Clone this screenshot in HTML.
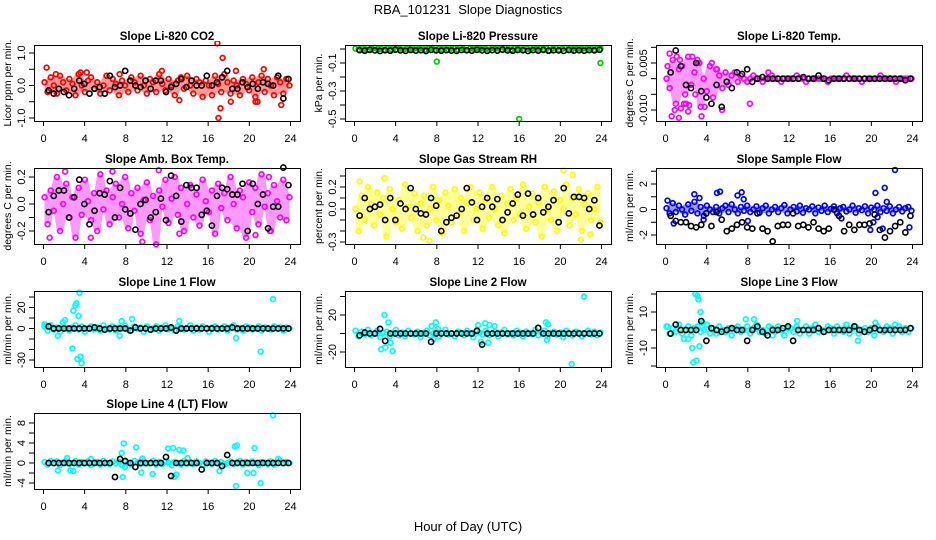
<!DOCTYPE html>
<html><head><meta charset="utf-8">
<style>
html,body{margin:0;padding:0;background:#fff;}
svg{display:block;font-family:"Liberation Sans",Arial,sans-serif;}
</style></head>
<body>
<svg id="chart" width="936" height="540" viewBox="0 0 936 540" xmlns="http://www.w3.org/2000/svg">
<rect x="0" y="0" width="936" height="540" fill="#fff"/>
<text x="468" y="14" text-anchor="middle" font-size="13">RBA_101231&#160; Slope Diagnostics</text>
<text x="468" y="531" text-anchor="middle" font-size="13">Hour of Day (UTC)</text>
</svg>
<script>
// ---------- DATA ----------
const xTickLabels = ["0","4","8","12","16","20","24"];
const xTickValues = [0,4,8,12,16,20,24];

// CO2
const co2Band = [0.1,-0.2,0.25,0.0,-0.25,0.3,0.1,-0.15,0.2,0.05,-0.3,0.35,0.0,-0.2,0.15,0.25,-0.1,0.1,-0.25,0.0,0.3,-0.15,0.2,0.05,-0.3,0.15,0.0,-0.2,0.25,0.1,-0.15,0.3,0.0,-0.25,0.2,0.1,-0.2,0.35,0.05,-0.15,0.2,0.0,-0.3,0.15,0.25,-0.1,0.3,0.0,-0.25,0.2,0.1,-0.35,0.15,0.0,-0.3,0.3,0.05,-0.2,0.35,0.1,-0.25,0.15,0.0,-0.3,0.2,0.05,-0.15,0.25,-0.35,0.1,0.3,-0.2,0.2,0.0,-0.3,0.25,0.1,-0.25,0.2,0.0];
const co2OutHours = [0.3,1.2,3.6,4.2,7.4,11.5,16.9,17.0,17.2,17.4,18.2,18.7,20.6,20.8,21.4,23.1,13.2];
const co2OutValues = [0.55,0.35,0.4,0.4,0.35,0.45,1.3,-1.0,-0.7,0.85,-0.5,0.45,-0.5,-0.5,0.5,-0.6,-0.45];
const co2Black = [-0.15,-0.25,-0.1,-0.2,-0.3,-0.1,0.15,0.05,-0.25,-0.1,-0.05,-0.25,0.3,-0.05,0.0,0.45,0.15,0.0,-0.05,0.15,-0.1,0.15,0.15,-0.2,-0.05,0.05,0.2,-0.05,0.15,0.0,0.0,0.3,0.0,0.1,0.25,0.45,-0.1,-0.1,0.1,-0.05,0.05,-0.1,0.1,0.05,0.0,0.3,-0.4,0.2];
const co2Ticks = [-1,-0.5,0,0.5,1];
const co2TickLabels = ["-1.0","","0.0","","1.0"];

// Pressure
const presBand = [0.003,-0.004,0.006,0.0,-0.006,0.004,0.008,-0.002,0.002,-0.005,0.005,0.0,0.007,-0.003,0.003,-0.006,0.004,0.001,-0.004,0.006,0.0,0.005,-0.003,0.004,0.007,-0.005,0.002,0.0,0.006,-0.004,0.003,0.005,-0.002,0.008,0.0,-0.006,0.004,0.002,0.006,-0.003,0.005,0.0,-0.005,0.007,0.003,0.004,-0.002,0.006,0.0,-0.004,0.005,0.002,0.007,-0.003,0.003,-0.005,0.006,0.0,0.004,-0.002,0.005,-0.012,0.003,0.006,-0.004,0.002,0.007,0.0,-0.003,0.005,0.004,-0.002,0.006,0.0,0.003,-0.004,0.005,0.002];
const presOutHours = [8.0,16.0,23.9];
const presOutValues = [-0.09,-0.5,-0.1];
const presBlack = [-0.008,-0.012,-0.006,-0.01,-0.014,-0.009,-0.012,-0.005,-0.01,-0.013,-0.007,-0.011,-0.009,-0.014,-0.006,-0.01,-0.012,-0.008,-0.011,-0.013,-0.007,-0.009,-0.012,-0.006,-0.01,-0.013,-0.008,-0.011,-0.005,-0.01,-0.012,-0.007,-0.009,-0.014,-0.008,-0.011,-0.006,-0.012,-0.009,-0.01,-0.013,-0.007,-0.011,-0.009,-0.012,-0.008,-0.01,-0.006];
const presTicks = [0,-0.1,-0.2,-0.3,-0.4,-0.5];
const presTickLabels = ["","-0.1","","-0.3","","-0.5"];

// Li-820 Temp
const tempBand = [0.0,-0.003,0.006,-0.008,0.003,0.004,-0.005,0.007,-0.002,0.002,0.005,-0.009,0.0,-0.004,0.004,-0.006,0.003,0.001,-0.003,0.002,-0.002,0.001,0.002,-0.001,0.001,0.0,-0.001,0.0,0.001,0.0,0.0,-0.001,0.0,0.0,0.001,0.0,0.0,-0.001,0.0,0.0,0.0,0.0,0.001,0.0,0.0,-0.001,0.0,0.0,0.0,0.0,0.0,0.0,-0.001,0.0,0.0,0.0,0.0,0.0,0.001,0.0,0.0,0.0,0.0,-0.001,0.0,0.0,0.0,0.0,0.0,0.001,0.0,0.0,0.0,0.0,-0.001,0.0,0.0,0.0,0.0,0.0];
const tempOutHours = [0.2,0.4,0.6,1.1,1.3,1.5,1.4,2.3,2.0,2.6,2.2,3.3,3.1,3.8,4.5,5.0,0.9,1.8,10.0,5.5,2.9,8.2,7.3,3.5];
const tempOutValues = [0.004,0.008,-0.012,0.007,-0.0125,-0.0095,0.006,-0.0085,-0.008,0.007,-0.0105,0.005,0.006,-0.009,0.005,0.003,-0.010,-0.008,0.002,-0.010,-0.005,-0.008,0.001,-0.012];
const tempBlack = [0.002,0.009,0.004,-0.002,-0.003,0.005,-0.004,-0.006,-0.008,-0.002,-0.009,-0.001,-0.003,0.002,0.0015,0.003,-0.001,0.0,0.0005,0.0,0.0,0.0,0.0,0.0,0.0,0.0,0.0005,0.0,0.0,0.001,0.0,-0.0005,0.0,0.0,0.0,0.0,0.0,0.0,0.0,0.0,0.0,0.0,0.0,0.0,0.0,0.0,-0.0005,0.0];
const tempTicks = [0.01,0.005,0,-0.005,-0.01];
const tempTickLabels = ["","0.005","","","-0.010"];

// Amb Box Temp
const ambBand = [0.05,-0.15,0.1,-0.05,0.2,-0.2,0.0,0.15,-0.1,0.05,-0.25,0.12,-0.08,0.18,0.02,-0.12,0.08,-0.2,0.22,-0.04,0.1,-0.15,0.05,0.15,-0.1,0.0,0.2,-0.18,0.08,-0.05,0.12,-0.22,0.03,0.16,-0.12,0.06,-0.3,0.1,-0.02,0.18,-0.14,0.04,0.2,-0.08,0.12,-0.2,0.0,0.14,-0.1,0.07,-0.16,0.18,0.02,-0.06,0.1,-0.22,0.15,-0.03,0.08,-0.12,0.2,0.0,-0.18,0.1,0.05,-0.25,0.16,-0.06,0.12,-0.15,0.22,-0.02,0.08,-0.2,0.14,0.02,-0.1,0.18,-0.12,0.05];
const ambOutHours = [0.6,2.1,4.6,6.7,9.6,11.2,13.2,21.9,20.6,22.0];
const ambOutValues = [-0.25,0.24,-0.25,0.24,-0.28,0.25,-0.22,0.2,-0.23,-0.2];
const ambBlack = [-0.06,0.06,0.1,0.1,-0.1,0.05,0.18,0.0,-0.15,-0.05,0.08,0.07,0.17,-0.1,0.12,-0.04,-0.07,-0.19,0.0,0.03,-0.1,-0.06,0.04,-0.12,0.21,0.06,-0.13,0.14,0.12,0.12,-0.08,-0.05,-0.16,0.06,0.12,0.11,0.07,0.07,0.15,-0.2,0.15,0.0,0.07,-0.18,-0.02,-0.02,0.27,0.14];
const ambTicks = [0.2,0.1,0,-0.1,-0.2];
const ambTickLabels = ["0.2","","0.0","","-0.2"];

// Gas Stream RH
const rhBand = [0.0,-0.2,0.12,-0.1,0.2,0.05,-0.15,0.15,-0.05,0.1,-0.25,0.18,0.0,-0.12,0.08,-0.18,0.22,0.02,-0.08,0.14,-0.2,0.05,0.12,-0.15,0.0,0.2,-0.1,0.08,-0.22,0.15,0.03,-0.12,0.18,-0.05,0.1,-0.2,0.06,0.2,-0.1,0.0,0.15,-0.18,0.08,-0.08,0.2,0.0,-0.15,0.12,-0.22,0.05,0.18,-0.1,0.1,-0.05,0.22,-0.18,0.02,0.14,-0.12,0.06,-0.25,0.2,0.0,-0.1,0.16,-0.2,0.08,0.0,0.22,-0.15,0.1,-0.05,0.18,-0.2,0.04,0.14,-0.1,0.0,0.2,-0.12];
const rhOutHours = [0.5,2.9,7.3,6.7,21.2,20.3,22.0,22.9];
const rhOutValues = [0.25,0.28,-0.29,-0.26,0.31,0.35,-0.28,-0.23];
const rhBlack = [-0.06,0.1,0.0,0.02,0.04,-0.1,0.1,-0.1,0.05,0.0,0.19,0.0,-0.04,-0.05,0.1,0.03,-0.2,-0.12,-0.08,-0.06,0.0,0.19,0.06,-0.1,0.02,0.1,0.02,0.09,-0.1,-0.03,0.05,0.13,-0.06,0.14,-0.05,0.1,-0.03,0.02,0.08,-0.12,0.19,-0.04,0.11,0.11,0.1,0.0,0.08,-0.15];
const rhTicks = [0.3,0.2,0.1,0,-0.1,-0.2,-0.3];
const rhTickLabels = ["","0.2","","0.0","","","-0.3"];

// Sample Flow
const flowBand = [0.1,-0.3,0.5,-0.2,0.3,0.0,-0.4,0.4,-0.1,0.6,-0.3,0.2,-0.5,0.3,0.0,-0.2,0.2,-0.3,0.1,0.3,-0.2,0.4,0.0,-0.3,0.2,-0.1,0.3,-0.2,0.0,0.25,-0.25,0.1,0.3,-0.3,0.0,0.2,-0.2,0.1,0.35,-0.3,0.0,0.2,-0.15,0.3,-0.25,0.1,0.0,0.25,-0.3,0.15,-0.1,0.3,-0.2,0.05,0.25,-0.3,0.1,0.2,-0.15,0.0,0.3,-0.25,0.1,-0.05,0.25,-0.3,0.15,0.0,0.3,-0.2,0.1,-0.1,0.25,-0.3,0.0,0.2,-0.15,0.1,0.2,-0.1];
const flowOutHours = [0.2,0.8,2.8,3.3,3.7,5.0,5.3,7.0,7.4,7.6,8.0,17.1,19.9,20.4,20.6,21.1,21.3,21.5,22.3,23.7,20.2];
const flowOutValues = [0.7,-1.1,1.2,0.9,-0.8,1.3,1.4,1.1,1.35,0.8,-0.9,-0.7,-1.6,1.3,-0.6,-1.5,1.7,0.6,3.1,-1.4,-1.0];
const flowBlack = [-0.5,-0.9,-1.0,-1.0,-1.3,-1.4,-1.2,-0.3,-1.3,-0.2,-0.8,-1.7,-1.5,-1.2,-1.0,-1.4,-1.5,-0.3,-1.5,-1.7,-2.5,-1.3,-1.2,-1.2,-0.3,-1.3,-1.2,-1.4,-1.0,-1.5,-1.7,-1.5,0.0,-0.5,-1.7,-1.2,-1.6,-1.2,-1.2,-1.1,-0.4,-1.6,-2.2,-1.7,-1.3,-1.0,-1.8,-0.5];
const flowTicks = [3,2,1,0,-1,-2];
const flowTickLabels = ["","2","","0","","-2"];

// Line 1 Flow
const l1Band = [2,-2,3,-1,1,-3,2,0,-2,1,3,-1,2,-3,0,2,-1,1,-2,3,0,-1,2,-2,1,0,3,-1,-2,2,0,1,-3,2,-1,0,2,-2,1,3,-1,0,-2,2,1,-1,0,3,-2,1,-1,2,0,-3,1,2,-1,0,2,-2,1,3,-1,0,-2,2,1,-1,0,2,-2,1,0,-1,2,0,1,-2,1,0];
const l1OutHours = [0.1,1.4,2.1,2.8,2.9,3.1,3.2,3.4,3.5,3.6,3.7,3.3,7.4,7.6,8.6,13.2,18.7,21.1,22.3,1.9];
const l1OutValues = [4,-7,8,-19,17,22,24,12,34,-27,-33,-29,-7,7,9,7,-9,-22,28,6];
const l1Black = [2,0,0,0,0,0,0,0,0,1,0,-1,0,0,0,0,-2,1,0,0,-1,0,0,0,1,-2,0,0,0,0,0,0,0,0,0,0,1,0,0,0,0,0,0,0,0,0,0,0];
const l1Ticks = [30,20,10,0,-10,-20,-30];
const l1TickLabels = ["","20","","0","","","-30"];

// Line 2 Flow
const l2Band = [3,-3,2,-1,4,-2,0,3,-4,1,2,-3,0,4,-2,1,-3,3,0,-1,2,-4,1,3,-2,0,2,-3,1,4,-1,0,-3,2,1,-2,3,0,-4,2,1,-1,3,-2,0,2,-3,1,4,-1,0,-2,3,1,-3,2,0,-1,4,-2,1,3,-3,0,2,-1,1,-4,3,0,-2,2,1,-3,0,3,-1,2,-2,1];
const l2OutHours = [2.9,3.3,3.5,2.6,3.7,7.5,7.9,7.7,12.0,12.7,13.1,13.6,12.3,13.0,18.6,18.8,18.7,21.1,22.3,8.1,3.0];
const l2OutValues = [20,12,-10,-17,-19,8,12,-6,9,11,9,8,-9,-10,12,10,-7,-33,40,5,-15];
const l2Black = [-2,1,0,0,5,-8,0,0,0,0,0,0,0,0,-9,0,0,0,0,0,0,0,0,3,-12,0,0,0,0,0,0,0,0,0,0,6,0,0,0,0,0,0,0,0,0,0,0,0];
const l2Ticks = [40,20,0,-20];
const l2TickLabels = ["","20","","-20"];

// Line 3 Flow
const l3Band = [2,-2,1,-1,3,-2,0,2,-3,1,2,-1,0,3,-2,1,-2,2,0,-1,1,-3,1,2,-1,0,2,-2,1,3,-1,0,-2,2,1,-1,2,0,-3,1,1,-1,2,-2,0,2,-2,1,3,-1,0,-1,2,1,-2,2,0,-1,3,-2,1,2,-2,0,1,-1,1,-3,2,0,-1,2,1,-2,0,2,-1,1,-1,1];
const l3OutHours = [2.9,3.1,3.2,3.4,2.6,2.7,3.0,3.3,3.6,7.8,8.6,12.8,18.7,20.4,22.3,1.8,2.2,10.4,0.2];
const l3OutValues = [20,19,17,10,-10,-18,-17,-9,4,6,6,5,-6,4,3,-5,-5,-3,2];
const l3Black = [-2,3,0,0,0,0,5,-6,1,0,-1,0,1,0,0,-6,0,2,-1,-3,0,0,1,2,-6,0,0,0,0,1,-1,0,0,0,0,0,2,0,-1,0,1,0,0,0,0,0,0,1];
const l3Ticks = [20,10,0,-10,-20];
const l3TickLabels = ["","10","","-10",""];

// Line 4 (LT) Flow
const l4Band = [0.2,-0.3,0.4,-0.1,0.3,-0.4,0.1,0.3,-0.2,0.0,0.4,-0.3,0.2,-0.1,0.3,-0.4,0.1,0.2,-0.3,0.4,0.0,-0.2,0.3,-0.1,0.2,-0.4,0.3,0.0,-0.3,0.4,0.1,-0.2,0.3,-0.1,0.0,0.4,-0.3,0.2,-0.2,0.3,0.1,-0.4,0.2,0.0,-0.3,0.4,-0.1,0.2,-0.2,0.3,0.0,-0.4,0.3,0.1,-0.2,0.4,-0.1,0.2,-0.3,0.0,0.3,-0.2,0.1,0.4,-0.3,0.2,-0.1,0.3,0.0,-0.4,0.2,0.1,-0.2,0.3,-0.3,0.1,0.4,-0.1,0.2,0.0];
const l4OutHours = [1.4,2.3,2.6,2.9,4.6,7.6,7.8,7.7,9.0,9.5,9.6,10.6,12.1,12.6,12.7,13.2,13.6,12.9,17.1,18.6,18.8,18.7,19.8,20.4,20.5,21.1,22.3,22.8,7.9,14.0];
const l4OutValues = [-1.5,1,-1.5,-1.6,0.8,2,3.9,-2.8,3.1,-1.9,0.9,-2.2,2.9,3,-2.8,2.6,2.5,-2.3,-1.6,3.3,3.5,-4.6,-2,-2,3,-4,9.5,0.8,-0.8,1];
const l4Black = [0,0,0,0,0,0,0,0,0,0,0,0,0,-2.8,0.8,0.4,0,-0.8,0,0,0,0,0,1.2,-2.6,0,0,0,0,0,-1.3,0,0,0,-0.6,1.6,0,0,0,0,0,0,0,0,0,0,0,0];
const l4Ticks = [8,6,4,2,0,-2,-4];
const l4TickLabels = ["8","","4","","0","","-4"];

// ---------- LAYOUT ----------
const colLeft = [34, 345, 656];
const rowTop = [45, 168, 291, 413];
const BOX_W = 266, BOX_H = 76;
const panels = [
 {name:"co2", title:"Slope Li-820 CO2", ylab:"Licor ppm per min.", col:0,row:0, color:"#ff0000", band:co2Band, ox:co2OutHours, oy:co2OutValues, black:co2Black, ticks:co2Ticks, tl:co2TickLabels, cal:[1.0,53,-1.0,118]},
 {name:"pressure", title:"Slope Li-820 Pressure", ylab:"kPa per min.", col:1,row:0, color:"#00cc00", band:presBand, ox:presOutHours, oy:presOutValues, black:presBlack, ticks:presTicks, tl:presTickLabels, cal:[-0.1,63,-0.5,119]},
 {name:"li820-temp", title:"Slope Li-820 Temp.", ylab:"degrees C per min.", col:2,row:0, color:"#ff00ff", band:tempBand, ox:tempOutHours, oy:tempOutValues, black:tempBlack, ticks:tempTicks, tl:tempTickLabels, cal:[0.005,63,-0.010,110]},
 {name:"amb-box-temp", title:"Slope Amb. Box Temp.", ylab:"degrees C per min.", col:0,row:1, color:"#ff00ff", band:ambBand, ox:ambOutHours, oy:ambOutValues, black:ambBlack, ticks:ambTicks, tl:ambTickLabels, cal:[0.2,177,-0.2,231]},
 {name:"gas-stream-rh", title:"Slope Gas Stream RH", ylab:"percent per min.", col:1,row:1, color:"#ffff00", band:rhBand, ox:rhOutHours, oy:rhOutValues, black:rhBlack, ticks:rhTicks, tl:rhTickLabels, cal:[0.2,187,-0.3,242]},
 {name:"sample-flow", title:"Slope Sample Flow", ylab:"ml/min per min.", col:2,row:1, color:"#0000ff", band:flowBand, ox:flowOutHours, oy:flowOutValues, black:flowBlack, ticks:flowTicks, tl:flowTickLabels, cal:[2,184,-2,235]},
 {name:"line1-flow", title:"Slope Line 1 Flow", ylab:"ml/min per min.", col:0,row:2, color:"#00ffff", band:l1Band, ox:l1OutHours, oy:l1OutValues, black:l1Black, ticks:l1Ticks, tl:l1TickLabels, cal:[30,297,-30,360]},
 {name:"line2-flow", title:"Slope Line 2 Flow", ylab:"ml/min per min.", col:1,row:2, color:"#00ffff", band:l2Band, ox:l2OutHours, oy:l2OutValues, black:l2Black, ticks:l2Ticks, tl:l2TickLabels, cal:[20,315,-20,352]},
 {name:"line3-flow", title:"Slope Line 3 Flow", ylab:"ml/min per min.", col:2,row:2, color:"#00ffff", band:l3Band, ox:l3OutHours, oy:l3OutValues, black:l3Black, ticks:l3Ticks, tl:l3TickLabels, cal:[10,312,-10,348]},
 {name:"line4-flow", title:"Slope Line 4 (LT) Flow", ylab:"ml/min per min.", col:0,row:3, color:"#00ffff", band:l4Band, ox:l4OutHours, oy:l4OutValues, black:l4Black, ticks:l4Ticks, tl:l4TickLabels, cal:[8,423,-4,483]}
];

const NS = "http://www.w3.org/2000/svg";
const svg = document.getElementById("chart");
function mk(tag, attrs, parent){
  const e = document.createElementNS(NS, tag);
  for (const k in attrs) e.setAttribute(k, attrs[k]);
  (parent||svg).appendChild(e);
  return e;
}

panels.forEach(p => {
  const L = colLeft[p.col], T = rowTop[p.row];
  const g = mk("g", {});
  
  
  const xS = h => L + 9.5 + h * (247/24);
  const k = (p.cal[3]-p.cal[1])/(p.cal[2]-p.cal[0]);
  const yS = v => p.cal[1] + (v - p.cal[0]) * k;

  const t = mk("text", {x: L + BOX_W/2, y: T - 5, "text-anchor":"middle", "font-size":"11.5", "font-weight":"bold"}, g);
  t.textContent = p.title;
  
  

  const yl = mk("text", {x: 0, y: 0, "text-anchor":"middle", "font-size":"10.5", transform:`translate(${L-23},${T+BOX_H/2}) rotate(-90)`}, g);
  yl.textContent = p.ylab;
  
  

  const clipId = "clip-" + p.name;
  const cp = mk("clipPath", {id: clipId}, g);
  mk("rect", {x: L, y: T-4, width: BOX_W, height: BOX_H+8}, cp);
  const pts = mk("g", {"clip-path": `url(#${clipId})`, fill:"none"}, g);
  
  
  const n = p.band.length;
  const bx = i => xS(0.1 + i*23.8/(n-1));

  // light point-cloud envelope derived from band values (rolling min/max)
  const upper = [], lower = [];
  for (let i = 0; i < n; i++) {
    const win = p.band.slice(Math.max(0,i-1), Math.min(n,i+2));
    upper.push(bx(i) + "," + yS(Math.max(...win)));
    lower.push(bx(i) + "," + yS(Math.min(...win)));
  }
  const env = mk("polygon", {points: upper.concat(lower.reverse()).join(" "), fill: p.color, "fill-opacity": 0.4, stroke: "none"}, pts);
  
  

  p.band.forEach((v, i) => {
    const c = mk("circle", {cx: bx(i), cy: yS(v), r: 2.4, stroke: p.color, "stroke-width": 1.7}, pts);
    
    
  });
  p.ox.forEach((h, i) => {
    const c = mk("circle", {cx: xS(h), cy: yS(p.oy[i]), r: 2.4, stroke: p.color, "stroke-width": 1.7}, pts);
    
    
  });
  const nb = p.black.length;
  p.black.forEach((v, i) => {
    const c = mk("circle", {cx: xS(0.5 + i*23.3/(nb-1)), cy: yS(v), r: 2.6, stroke: "#000", "stroke-width": 1.6}, pts);
    
    
  });

  const box = mk("rect", {x: L+0.5, y: T+0.5, width: BOX_W, height: BOX_H, fill:"none", stroke:"#000", "stroke-width":1}, g);
  
  

  mk("line", {x1: xS(0), x2: xS(24), y1: T+BOX_H+0.5, y2: T+BOX_H+0.5, stroke:"#000"}, g);
  xTickValues.forEach((h, i) => {
    mk("line", {x1: xS(h), x2: xS(h), y1: T+BOX_H, y2: T+BOX_H+5, stroke:"#000"}, g);
    const lt = mk("text", {x: xS(h), y: T+BOX_H+21, "text-anchor":"middle", "font-size":"11"}, g);
    lt.textContent = xTickLabels[i];
    
    
  });

  p.ticks.forEach((v, i) => {
    const y = yS(v);
    mk("line", {x1: L-5, x2: L, y1: y, y2: y, stroke:"#000"}, g);
    if (p.tl[i]) {
      const lt = mk("text", {x: 0, y: 0, "text-anchor":"middle", "font-size":"11", transform:`translate(${L-9},${y}) rotate(-90)`}, g);
      lt.textContent = p.tl[i];
      
      
    }
  });
});
</script>
</body></html>
